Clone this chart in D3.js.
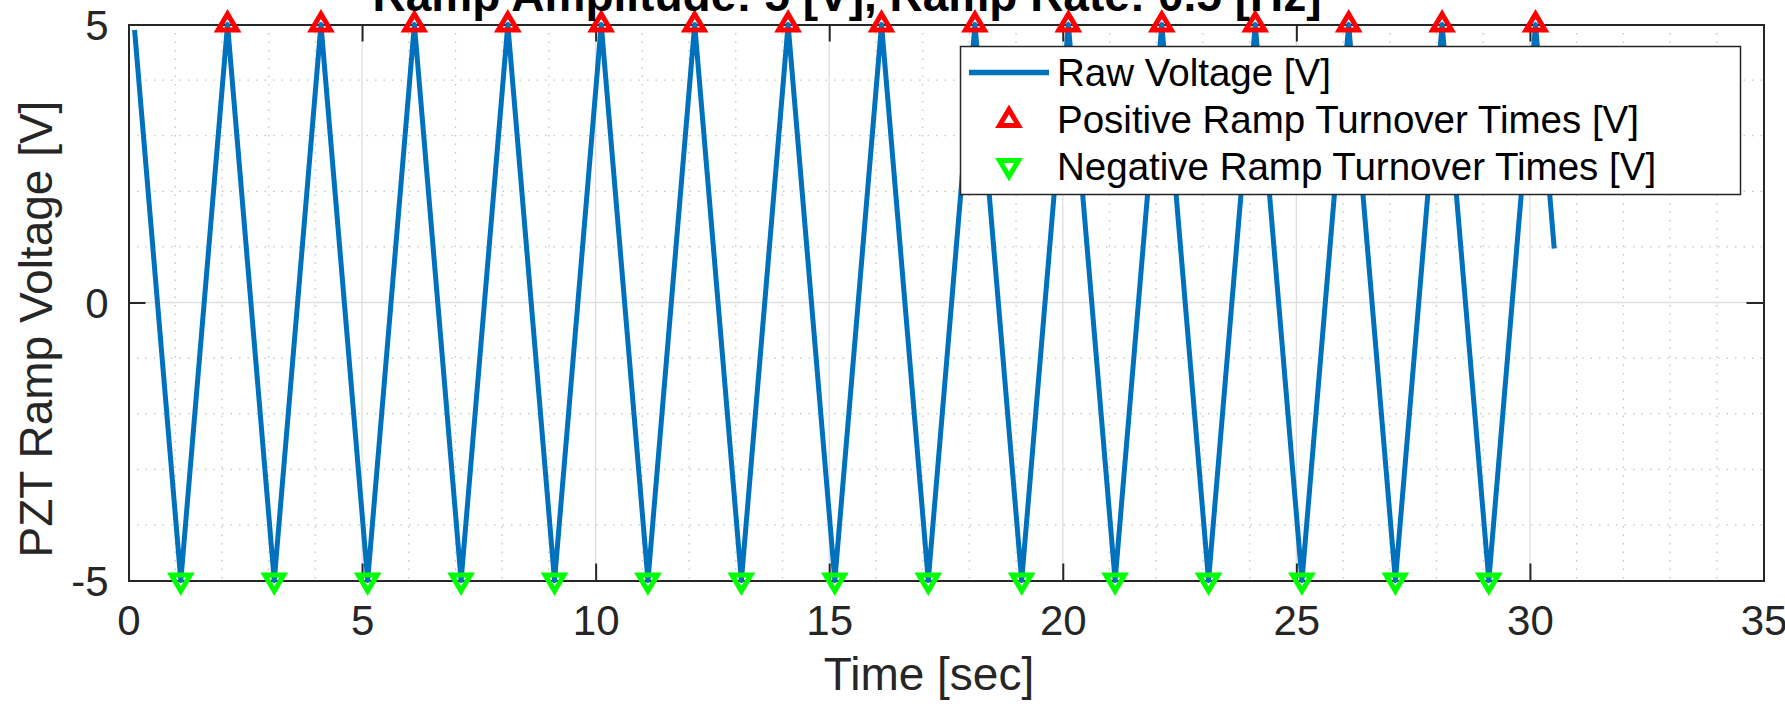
<!DOCTYPE html>
<html>
<head>
<meta charset="utf-8">
<script src="https://cdn.jsdelivr.net/npm/d3@7"></script>
<style>
  html, body { margin: 0; padding: 0; background: #ffffff; }
  svg { display: block; font-family: "Liberation Sans", Arial, Helvetica, sans-serif; }
</style>
</head>
<body>
<svg id="chart" width="1785" height="704"></svg>
<script>
// ---------------- data ----------------
const titleText = "Ramp Amplitude: 5 [V], Ramp Rate: 0.5 [Hz]";
const xLabelText = "Time [sec]";
const yLabelText = "PZT Ramp Voltage [V]";
const legendLabels = ["Raw Voltage [V]", "Positive Ramp Turnover Times [V]", "Negative Ramp Turnover Times [V]"];

const xTicks = [0, 5, 10, 15, 20, 25, 30, 35];
const yTicks = [-5, 0, 5];
const xMinorTicks = [1, 2, 3, 4, 6, 7, 8, 9, 11, 12, 13, 14, 16, 17, 18, 19, 21, 22, 23, 24, 26, 27, 28, 29, 31, 32, 33, 34];
const yMinorTicks = [-4, -3, -2, -1, 1, 2, 3, 4];

// raw voltage (triangle ramp vertices)
const rawTime = [0.13, 1.12, 2.12, 3.12, 4.12, 5.12, 6.12, 7.12, 8.12, 9.12, 10.12,
                 11.12, 12.12, 13.12, 14.12, 15.12, 16.12, 17.12, 18.12, 19.12, 20.12,
                 21.12, 22.12, 23.12, 24.12, 25.12, 26.12, 27.12, 28.12, 29.12, 30.12, 30.52];
const rawVolt = [4.9, -5, 5, -5, 5, -5, 5, -5, 5, -5, 5,
                 -5, 5, -5, 5, -5, 5, -5, 5, -5, 5,
                 -5, 5, -5, 5, -5, 5, -5, 5, -5, 5, 0.97];

// positive turnover points
const posTime = [2.12, 4.12, 6.12, 8.12, 10.12, 12.12, 14.12, 16.12, 18.12, 20.12, 22.12, 24.12, 26.12, 28.12, 30.12];
const posVolt = [5, 5, 5, 5, 5, 5, 5, 5, 5, 5, 5, 5, 5, 5, 5];

// negative turnover points
const negTime = [1.12, 3.12, 5.12, 7.12, 9.12, 11.12, 13.12, 15.12, 17.12, 19.12, 21.12, 23.12, 25.12, 27.12, 29.12];
const negVolt = [-5, -5, -5, -5, -5, -5, -5, -5, -5, -5, -5, -5, -5, -5, -5];

// ---------------- layout ----------------
const plot = { left: 128.5, right: 1763.5, top: 24.5, bottom: 580.5 };
const axisColor = "#262626";
const lineColor = "#0072BD";
const tickLen = 17;

const svg = d3.select("#chart");
svg.append("rect").attr("width", 1785).attr("height", 704).attr("fill", "#ffffff");

const x = d3.scaleLinear().domain([0, 35]).range([plot.left, plot.right]);
const y = d3.scaleLinear().domain([-5, 5]).range([plot.bottom, plot.top]);

// plot background
svg.append("rect")
  .attr("x", plot.left).attr("y", plot.top)
  .attr("width", plot.right - plot.left).attr("height", plot.bottom - plot.top)
  .attr("fill", "#ffffff");

// minor grid (dotted)
const grid = svg.append("g");
grid.selectAll(".vminor").data(xMinorTicks).join("line")
  .attr("x1", d => x(d)).attr("x2", d => x(d))
  .attr("y1", plot.top).attr("y2", plot.bottom)
  .attr("stroke", "#c4c4c4").attr("stroke-width", 1.3)
  .attr("stroke-dasharray", "1.5,7");
grid.selectAll(".hminor").data(yMinorTicks).join("line")
  .attr("y1", d => y(d)).attr("y2", d => y(d))
  .attr("x1", plot.left).attr("x2", plot.right)
  .attr("stroke", "#c4c4c4").attr("stroke-width", 1.3)
  .attr("stroke-dasharray", "1.5,7");
// major grid (solid light)
grid.selectAll(".vmajor").data(xTicks.filter(d => d > 0 && d < 35)).join("line")
  .attr("x1", d => x(d)).attr("x2", d => x(d))
  .attr("y1", plot.top).attr("y2", plot.bottom)
  .attr("stroke", "#dfdfdf").attr("stroke-width", 1.3);
grid.selectAll(".hmajor").data(yTicks.filter(d => d > -5 && d < 5)).join("line")
  .attr("y1", d => y(d)).attr("y2", d => y(d))
  .attr("x1", plot.left).attr("x2", plot.right)
  .attr("stroke", "#dfdfdf").attr("stroke-width", 1.3);

// axes
const fmt = d => String(d);
const gBottom = svg.append("g").attr("transform", `translate(0,${plot.bottom})`)
  .call(d3.axisBottom(x).tickValues(xTicks).tickSize(-tickLen).tickFormat(fmt));
const gTop = svg.append("g").attr("transform", `translate(0,${plot.top})`)
  .call(d3.axisTop(x).tickValues(xTicks).tickSize(-tickLen).tickFormat(""));
const gLeft = svg.append("g").attr("transform", `translate(${plot.left},0)`)
  .call(d3.axisLeft(y).tickValues(yTicks).tickSize(-tickLen).tickFormat(fmt));
const gRight = svg.append("g").attr("transform", `translate(${plot.right},0)`)
  .call(d3.axisRight(y).tickValues(yTicks).tickSize(-tickLen).tickFormat(""));

[gBottom, gTop, gLeft, gRight].forEach(g => {
  g.select(".domain").attr("stroke", axisColor).attr("stroke-width", 2);
  g.selectAll(".tick line").attr("stroke", axisColor).attr("stroke-width", 2);
  g.selectAll(".tick text")
    .attr("fill", axisColor)
    .style("font-size", "42px")
    .style("font-family", "'Liberation Sans', Arial, sans-serif");
});
gBottom.selectAll(".tick text").attr("y", 54.5).attr("dy", null);
gLeft.selectAll(".tick text").attr("x", -20).attr("y", 15).attr("dy", null).attr("text-anchor", "end");

// raw voltage line
const pts = rawTime.map((t, i) => [t, rawVolt[i]]);
svg.append("path")
  .datum(pts)
  .attr("fill", "none")
  .attr("stroke", lineColor)
  .attr("stroke-width", 5)
  .attr("stroke-linejoin", "round")
  .attr("d", d3.line().x(d => x(d[0])).y(d => y(d[1])));

// marker shapes
const upTri = "M0,-10.5 L9.5,5.5 L-9.5,5.5 Z";
const downTri = "M0,10.5 L9.5,-5.5 L-9.5,-5.5 Z";

svg.append("g").selectAll("path").data(posTime.map((t, i) => [t, posVolt[i]])).join("path")
  .attr("transform", d => `translate(${x(d[0])},${y(d[1])})`)
  .attr("d", upTri)
  .attr("fill", "none").attr("stroke", "#ff0000").attr("stroke-width", 5)
  .attr("stroke-linejoin", "miter");

svg.append("g").selectAll("path").data(negTime.map((t, i) => [t, negVolt[i]])).join("path")
  .attr("transform", d => `translate(${x(d[0])},${y(d[1])})`)
  .attr("d", downTri)
  .attr("fill", "none").attr("stroke", "#00ff00").attr("stroke-width", 5)
  .attr("stroke-linejoin", "miter");

// title
svg.append("text")
  .attr("x", 847).attr("y", 11)
  .attr("text-anchor", "middle")
  .style("font-size", "46px").style("font-weight", "bold")
  .attr("fill", "#000000")
  .text(titleText);

// axis labels
svg.append("text")
  .attr("x", 929).attr("y", 690)
  .attr("text-anchor", "middle")
  .style("font-size", "46px")
  .attr("fill", axisColor)
  .text(xLabelText);

svg.append("text")
  .attr("transform", "translate(52,329) rotate(-90)")
  .attr("text-anchor", "middle")
  .style("font-size", "46px")
  .attr("fill", axisColor)
  .text(yLabelText);

// legend
const leg = svg.append("g");
leg.append("rect")
  .attr("x", 960.5).attr("y", 46.5).attr("width", 780).attr("height", 148)
  .attr("fill", "#ffffff").attr("stroke", axisColor).attr("stroke-width", 1.5);
const rowBase = [86, 133, 180];
leg.selectAll("text").data(legendLabels).join("text")
  .attr("x", 1057).attr("y", (d, i) => rowBase[i])
  .style("font-size", "38.5px")
  .attr("fill", "#000000")
  .text(d => d);
leg.append("line")
  .attr("x1", 969).attr("x2", 1049).attr("y1", 72.5).attr("y2", 72.5)
  .attr("stroke", lineColor).attr("stroke-width", 5.5);
leg.append("path")
  .attr("transform", "translate(1009,120)")
  .attr("d", upTri)
  .attr("fill", "none").attr("stroke", "#ff0000").attr("stroke-width", 5);
leg.append("path")
  .attr("transform", "translate(1009,166)")
  .attr("d", downTri)
  .attr("fill", "none").attr("stroke", "#00ff00").attr("stroke-width", 5);
</script>
</body>
</html>
